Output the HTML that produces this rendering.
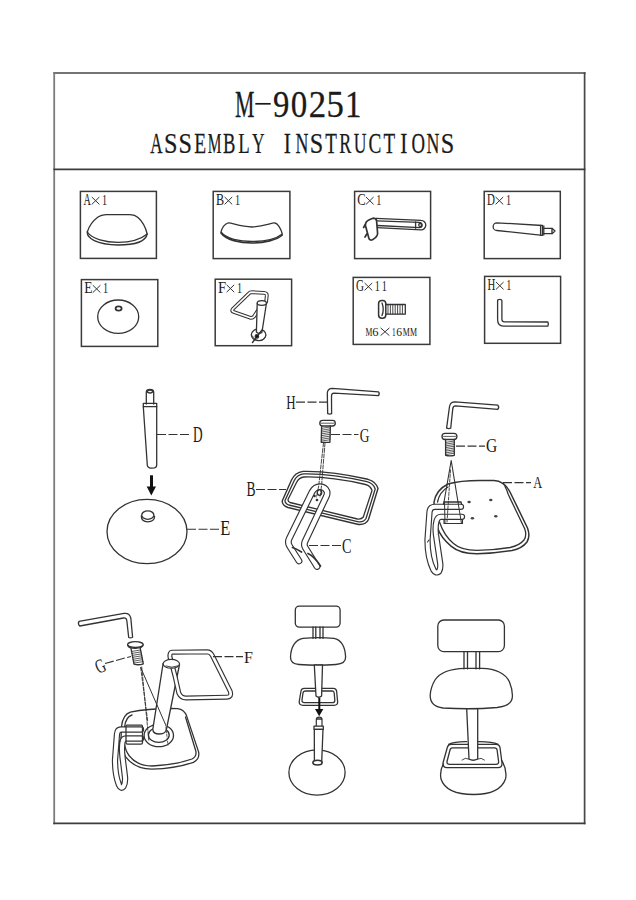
<!DOCTYPE html>
<html><head><meta charset="utf-8"><style>
html,body{margin:0;padding:0;background:#fff;width:636px;height:900px;overflow:hidden}
svg{display:block}
text{font-family:"Liberation Serif",serif}
</style></head><body>
<svg width="636" height="900" viewBox="0 0 636 900">
<g fill="none" stroke-linecap="square">
<path d="M54.2 73.1H584.6" stroke="#747474" stroke-width="2"/>
<path d="M54.2 73.1V823.3" stroke="#7c7c7c" stroke-width="1.8"/>
<path d="M584.6 73.1V823.3" stroke="#484848" stroke-width="1.7"/>
<path d="M54.2 823.3H584.6" stroke="#3c3c3c" stroke-width="1.8"/>
<path d="M54.2 169.4H584.6" stroke="#3c3c3c" stroke-width="1.6"/>
</g>
<g>
<text transform="translate(234.89 116.60) scale(0.582 1)" font-size="37.60" fill="#1a1a1a" stroke="#1a1a1a" stroke-width="0.3">M</text>
<text transform="translate(272.89 116.60) scale(0.872 1)" font-size="37.60" fill="#1a1a1a" stroke="#1a1a1a" stroke-width="0.3">9</text>
<text transform="translate(290.86 116.60) scale(0.878 1)" font-size="37.60" fill="#1a1a1a" stroke="#1a1a1a" stroke-width="0.3">0</text>
<text transform="translate(308.78 116.60) scale(0.926 1)" font-size="37.60" fill="#1a1a1a" stroke="#1a1a1a" stroke-width="0.3">2</text>
<text transform="translate(326.44 116.60) scale(0.924 1)" font-size="37.60" fill="#1a1a1a" stroke="#1a1a1a" stroke-width="0.3">5</text>
<text transform="translate(344.96 116.60) scale(0.874 1)" font-size="37.60" fill="#1a1a1a" stroke="#1a1a1a" stroke-width="0.3">1</text>
<path d="M255.3 103.8H270.7" stroke="#1a1a1a" stroke-width="1.7"/>
<text transform="translate(150.15 152.50) scale(0.567 1)" font-size="30.00" fill="#1a1a1a" stroke="#1a1a1a" stroke-width="0.25">A</text>
<text transform="translate(164.06 152.50) scale(0.808 1)" font-size="30.00" fill="#1a1a1a" stroke="#1a1a1a" stroke-width="0.25">S</text>
<text transform="translate(178.62 152.50) scale(0.808 1)" font-size="30.00" fill="#1a1a1a" stroke="#1a1a1a" stroke-width="0.25">S</text>
<text transform="translate(194.23 152.50) scale(0.649 1)" font-size="30.00" fill="#1a1a1a" stroke="#1a1a1a" stroke-width="0.25">E</text>
<text transform="translate(207.71 152.50) scale(0.513 1)" font-size="30.00" fill="#1a1a1a" stroke="#1a1a1a" stroke-width="0.25">M</text>
<text transform="translate(223.08 152.50) scale(0.620 1)" font-size="30.00" fill="#1a1a1a" stroke="#1a1a1a" stroke-width="0.25">B</text>
<text transform="translate(238.24 152.50) scale(0.625 1)" font-size="30.00" fill="#1a1a1a" stroke="#1a1a1a" stroke-width="0.25">L</text>
<text transform="translate(252.03 152.50) scale(0.583 1)" font-size="30.00" fill="#1a1a1a" stroke="#1a1a1a" stroke-width="0.25">Y</text>
<text transform="translate(283.77 152.50) scale(0.712 1)" font-size="30.00" fill="#1a1a1a" stroke="#1a1a1a" stroke-width="0.25">I</text>
<text transform="translate(295.40 152.50) scale(0.595 1)" font-size="30.00" fill="#1a1a1a" stroke="#1a1a1a" stroke-width="0.25">N</text>
<text transform="translate(309.66 152.50) scale(0.808 1)" font-size="30.00" fill="#1a1a1a" stroke="#1a1a1a" stroke-width="0.25">S</text>
<text transform="translate(325.18 152.50) scale(0.635 1)" font-size="30.00" fill="#1a1a1a" stroke="#1a1a1a" stroke-width="0.25">T</text>
<text transform="translate(339.33 152.50) scale(0.601 1)" font-size="30.00" fill="#1a1a1a" stroke="#1a1a1a" stroke-width="0.25">R</text>
<text transform="translate(353.77 152.50) scale(0.587 1)" font-size="30.00" fill="#1a1a1a" stroke="#1a1a1a" stroke-width="0.25">U</text>
<text transform="translate(368.41 152.50) scale(0.642 1)" font-size="30.00" fill="#1a1a1a" stroke="#1a1a1a" stroke-width="0.25">C</text>
<text transform="translate(383.42 152.50) scale(0.635 1)" font-size="30.00" fill="#1a1a1a" stroke="#1a1a1a" stroke-width="0.25">T</text>
<text transform="translate(400.25 152.50) scale(0.712 1)" font-size="30.00" fill="#1a1a1a" stroke="#1a1a1a" stroke-width="0.25">I</text>
<text transform="translate(411.61 152.50) scale(0.624 1)" font-size="30.00" fill="#1a1a1a" stroke="#1a1a1a" stroke-width="0.25">O</text>
<text transform="translate(426.44 152.50) scale(0.595 1)" font-size="30.00" fill="#1a1a1a" stroke="#1a1a1a" stroke-width="0.25">N</text>
<text transform="translate(440.70 152.50) scale(0.808 1)" font-size="30.00" fill="#1a1a1a" stroke="#1a1a1a" stroke-width="0.25">S</text>
</g>
<g fill="none" stroke="#3a3a3a" stroke-width="1.5">
<rect x="80.4" y="191.4" width="76" height="67"/>
<rect x="213.2" y="191.4" width="76.7" height="67.2"/>
<rect x="354.6" y="191.4" width="76" height="67.2"/>
<rect x="484.2" y="191.4" width="76.1" height="67.2"/>
<rect x="81.4" y="279.6" width="76.4" height="66.8"/>
<rect x="215.2" y="279.2" width="76.4" height="66.5"/>
<rect x="353.2" y="277.4" width="76.7" height="67.0"/>
<rect x="484.6" y="276.4" width="76" height="66.9"/>
</g>
<text transform="translate(83.51 205.20) scale(0.583 1)" font-size="17.50" fill="#1a1a1a">A</text>
<path d="M91.8 197.0L99.4 204.4M99.4 197.0L91.8 204.4" stroke="#333" stroke-width="1" fill="none"/>
<text transform="translate(102.11 204.90) scale(0.750 1)" font-size="13.60" fill="#1a1a1a">1</text>
<text transform="translate(216.06 205.20) scale(0.696 1)" font-size="17.50" fill="#1a1a1a">B</text>
<path d="M224.6 197.0L232.2 204.4M232.2 197.0L224.6 204.4" stroke="#333" stroke-width="1" fill="none"/>
<text transform="translate(234.91 204.90) scale(0.750 1)" font-size="13.60" fill="#1a1a1a">1</text>
<text transform="translate(357.28 205.20) scale(0.721 1)" font-size="17.50" fill="#1a1a1a">C</text>
<path d="M366.0 197.0L373.6 204.4M373.6 197.0L366.0 204.4" stroke="#333" stroke-width="1" fill="none"/>
<text transform="translate(376.31 204.90) scale(0.750 1)" font-size="13.60" fill="#1a1a1a">1</text>
<text transform="translate(487.09 205.20) scale(0.628 1)" font-size="17.50" fill="#1a1a1a">D</text>
<path d="M495.6 197.0L503.2 204.4M503.2 197.0L495.6 204.4" stroke="#333" stroke-width="1" fill="none"/>
<text transform="translate(505.91 204.90) scale(0.750 1)" font-size="13.60" fill="#1a1a1a">1</text>
<text transform="translate(84.22 293.40) scale(0.770 1)" font-size="17.50" fill="#1a1a1a">E</text>
<path d="M92.8 285.2L100.4 292.6M100.4 285.2L92.8 292.6" stroke="#333" stroke-width="1" fill="none"/>
<text transform="translate(103.11 293.10) scale(0.750 1)" font-size="13.60" fill="#1a1a1a">1</text>
<text transform="translate(217.99 293.00) scale(0.835 1)" font-size="17.50" fill="#1a1a1a">F</text>
<path d="M226.6 284.8L234.2 292.2M234.2 284.8L226.6 292.2" stroke="#333" stroke-width="1" fill="none"/>
<text transform="translate(236.91 292.70) scale(0.750 1)" font-size="13.60" fill="#1a1a1a">1</text>
<text transform="translate(355.95 291.20) scale(0.633 1)" font-size="17.50" fill="#1a1a1a">G</text>
<path d="M364.6 283.0L372.2 290.4M372.2 283.0L364.6 290.4" stroke="#333" stroke-width="1" fill="none"/>
<text transform="translate(374.81 291.00) scale(0.750 1)" font-size="13.60" fill="#1a1a1a">1</text>
<text transform="translate(381.71 291.00) scale(0.750 1)" font-size="13.60" fill="#1a1a1a">1</text>
<text transform="translate(487.50 290.20) scale(0.619 1)" font-size="17.50" fill="#1a1a1a">H</text>
<path d="M496.0 282.0L503.6 289.4M503.6 282.0L496.0 289.4" stroke="#333" stroke-width="1" fill="none"/>
<text transform="translate(506.31 289.90) scale(0.750 1)" font-size="13.60" fill="#1a1a1a">1</text>
<text transform="translate(365.58 335.80) scale(0.625 1)" font-size="12.30" fill="#1a1a1a">M</text>
<text transform="translate(372.37 335.80) scale(1.023 1)" font-size="12.30" fill="#1a1a1a">6</text>
<path d="M380.6 327.9L389.4 335.6M389.4 327.9L380.6 335.6" stroke="#333" stroke-width="1" fill="none"/>
<text transform="translate(392.06 335.80) scale(0.599 1)" font-size="12.30" fill="#1a1a1a">1</text>
<text transform="translate(396.31 335.80) scale(0.948 1)" font-size="12.30" fill="#1a1a1a">6</text>
<text transform="translate(402.68 335.80) scale(0.645 1)" font-size="12.30" fill="#1a1a1a">M</text>
<text transform="translate(409.88 335.80) scale(0.645 1)" font-size="12.30" fill="#1a1a1a">M</text>
<g fill="none" stroke="#333" stroke-width="1.3" stroke-linecap="round" stroke-linejoin="round">
<path d="M87.3 232C89 226 94 220 98 217Q101 214.8 106 214.6L130 214.6Q135 214.8 138 217.5C142 221 145.5 227 147.2 234C140 240 128 242.3 118 242.3C106 242.3 92 239 87.3 232Z"/>
<path d="M87.2 232C87 238 96 244.5 118 245C138 245 146 240 147.2 234"/>
<path d="M221 232C222 228 225 224 228 223C231 222.5 240 226.5 252 227C264 226.5 272 222.5 275 223C278 223.5 281 229 282.3 234C276 239 264 241.5 252 241.5C240 241.5 226 239 221 232Z"/>
<path d="M221 233C226 240 240 243 252 243C264 243 277 240 282.3 235" stroke-width="1.6"/>
<path d="M376 218.3L421 220.3A4.8 4.8 0 0 1 421 229.9L377 227.6" stroke-width="1.3"/>
<path d="M377 220.9L419.5 222.4A2.6 2.6 0 0 1 419.5 227.6L377 225.5"/>
<path d="M415.6 221.8V228.3"/><circle cx="420.2" cy="225" r="1.5"/>
<path d="M366 222.5Q367.5 220 373 218.2Q376.3 218.2 376.6 221L377.6 233.5Q377.5 236.8 372.5 239.8Q369.5 240.8 368.8 238L365.3 225Z" stroke-width="1.7" fill="#fff"/>
<path d="M365.3 224.5L363.6 227.5M366.8 234L365 237" stroke-width="1.7"/>
<path d="M497 222.8L542.5 225.5L542.5 235.3L497 230.5A3.85 3.85 0 0 1 497 222.8Z"/>
<path d="M540.6 225.5V235.2M543.8 226V235" stroke-width="1.3"/>
<path d="M543.8 228.3H552L555 231L552 233.7H543.8"/><path d="M552 228.5V233.5" stroke-width="1.4"/>
<ellipse cx="118.2" cy="316.7" rx="20.5" ry="16.7"/>
<ellipse cx="118.6" cy="308.5" rx="3.0" ry="2.1" stroke-width="1.8"/>
<ellipse cx="258.6" cy="334.8" rx="7.3" ry="5.8"/>
<path d="M252.5 336Q254 340.5 259 340.6Q264.5 340.4 265.8 336" stroke-width="0.9"/>
<path d="M266.1 302L266.8 295.5Q267 293 264 292.8L252 292.2Q250 292.2 249 293.3L232.8 309Q231.2 311.2 233.8 312L250.3 317.8Q252.5 318.3 254 316.5L259.5 308" stroke-width="3.8"/>
<path d="M266.1 302L266.8 295.5Q267 293 264 292.8L252 292.2Q250 292.2 249 293.3L232.8 309Q231.2 311.2 233.8 312L250.3 317.8Q252.5 318.3 254 316.5L259.5 308" stroke="#fff" stroke-width="1.7"/>
<path d="M257.2 303.5L256.4 332Q259 334.5 261.9 332.5L266.4 303.5Z" fill="#fff"/>
<ellipse cx="261.8" cy="303" rx="4.6" ry="2.3" fill="#fff"/>
<path d="M252.5 342.5L262 330" stroke-width="1.4"/><circle cx="256.9" cy="336.4" r="1.7" fill="#111"/>
<rect x="378.6" y="300.4" width="7.2" height="17.9" rx="3.2" stroke-width="1.5"/>
<path d="M382 303Q384.5 309.3 382 315.6"/>
<path d="M385.8 304.5H405.3V314.2H385.8"/>
<path d="M388 305V314M390.4 305V314M392.8 305V314M395.2 305V314M397.6 305V314M400 305V314M402.4 305V314" stroke-width="0.9"/>
<path d="M497.6 300.6Q497.6 299.3 499.8 299.3Q501.9 299.3 501.9 300.6V319.5Q502 321.8 504.5 321.8L547.8 322Q548.8 324.1 547.8 326.2L503.5 326.2Q497.6 326 497.6 319.5Z" stroke-width="1.3"/>
</g>
<g fill="none" stroke="#333" stroke-width="1.3" stroke-linecap="round" stroke-linejoin="round">
<path d="M146.3 404V392Q146.3 389.3 150 389.3Q153.7 389.3 153.7 392V404"/><ellipse cx="150" cy="391.6" rx="2.6" ry="1.4"/>
<path d="M143.3 403.3H156.7V406.7H143.3Z"/>
<path d="M143.3 406.7L147.3 465.3Q148 468.2 152 468.2Q156.7 468.2 156.7 465V406.7"/>
<ellipse cx="147" cy="531.5" rx="40" ry="32.2"/>
<ellipse cx="147.8" cy="515.1" rx="6.1" ry="4.2" stroke-width="1.3"/><path d="M141.3 516Q141.3 521.6 147.8 521.8Q154.4 521.6 154.6 516.5" stroke-width="1.3"/>
<path d="M327.7 413.7L327.3 393.5Q327.3 388.3 332.5 388.3L378.5 391.9Q380 393.6 378.5 395.6L334 393.2Q331.6 393.2 331.5 396L331.6 413.7Q329.6 414.4 327.7 413.7Z" stroke-width="1.3"/>
<rect x="319.8" y="420.4" width="15.5" height="5.6" rx="2.8" stroke-width="1.3" fill="#fff"/>
<path d="M321 423.2H334" stroke-width="0.8"/>
<path d="M321.6 426L321.2 442.3H329.9L330.4 426"/>
<path d="M321.4 428.4L330.2 427.0M321.4 430.3L330.2 428.8M321.4 432.1L330.2 430.6M321.4 433.9L330.2 432.4M321.4 435.7L330.2 434.2M321.4 437.5L330.2 436.1M321.4 439.3L330.2 437.9M321.4 441.1L330.2 439.7" stroke-width="0.8"/>
<path d="M446.6 428.2L449.5 406.5Q450.3 402 455 401.9L497.8 405.2Q499.6 407.3 497.8 409.3L455.5 405.9Q453.3 406 452.8 408.5L450.7 428.2Q448.6 429 446.6 428.2Z" stroke-width="1.3"/>
<rect x="442" y="433.3" width="14.9" height="6.2" rx="3" stroke-width="1.3" fill="#fff"/>
<path d="M443.5 436.4H455.5" stroke-width="0.8"/>
<path d="M445.6 439.5V455.3Q450 456.3 454.3 455.3V439.5"/>
<path d="M445.6 442.4L454.3 441.0M445.6 444.1L454.3 442.8M445.6 445.9L454.3 444.5M445.6 447.6L454.3 446.2M445.6 449.4L454.3 448.0M445.6 451.1L454.3 449.8M445.6 452.9L454.3 451.5M445.6 454.6L454.3 453.2" stroke-width="0.8"/>
<path d="M79 621.3L124 613.4Q129.5 612.6 130.8 618L132.6 637.2Q130.6 638.3 128.7 637.5L126.8 620.5Q126.3 617.6 123.5 618L79.8 626Q77.5 623.8 79 621.3Z" stroke-width="1.3"/>
<ellipse cx="135.4" cy="644.6" rx="7.8" ry="2.9" stroke-width="1.3" fill="#fff"/>
<path d="M127.8 645.5Q128.5 648.3 135.5 648.3Q142.5 648.2 143.1 645.2" stroke-width="1.2"/>
<path d="M131 648.3L134 664.2Q138.8 665.5 143.3 663.8L140.2 648"/>
<path d="M131.3 651.5L140.5 650.0M131.7 653.5L140.9 651.9M132.2 655.4L141.4 653.9M132.6 657.3L141.8 655.8M133.0 659.3L142.2 657.7M133.4 661.2L142.6 659.6M133.9 663.1L143.1 661.6" stroke-width="0.8"/>
</g>
<g fill="none" stroke="#333" stroke-width="1.3" stroke-linecap="round" stroke-linejoin="round">
<path d="M303 471.4C320 471 345 474 368 479.3Q376 481.5 378 488.5L368.5 519.5Q366 525 358.5 524.5L288 507.5Q282 505.5 282.2 501L291.5 480Q295 472.5 303 471.4Z" stroke-width="1.4"/>
<path d="M303.5 473.9C320 473.5 344.5 476.5 367 481.7Q373.5 483.5 375.2 489L366 518.5Q364 522.3 358.5 521.8L288.8 505Q284.8 503.5 285 500.5L294 481Q297 474.8 303.5 473.9Z"/>
<path d="M304 477C320 476.5 343.5 479.5 365.5 484.5Q370.8 486 372 490.5L363.3 517Q361.5 519.5 357.5 519L290 502.5Q287.8 501.5 288 499.5L296.5 482.5Q299 477.5 304 477Z"/>
<path d="M323.5 443L318.7 486M325 443L321.5 486" stroke-dasharray="4 1.5" stroke-width="0.9"/>
<path d="M299 561L289.5 546Q287.5 542.5 289 539L312 492Q315 486.7 320 486.7Q325.3 486.9 327 491.5Q327.5 493.5 326.5 496L305 541.5Q303.5 545 305.5 548L317 566.5" stroke-width="6.8" stroke-linecap="round"/>
<path d="M299 561L289.5 546Q287.5 542.5 289 539L312 492Q315 486.7 320 486.7Q325.3 486.9 327 491.5Q327.5 493.5 326.5 496L305 541.5Q303.5 545 305.5 548L317 566.5" stroke="#fff" stroke-width="4.5" stroke-linecap="round"/>
<path d="M292.5 547.5Q297 549 301.5 552M308 553.5Q314 556 320.5 566" stroke-width="1.7"/>
<ellipse cx="319.5" cy="492.5" rx="2.2" ry="2.8"/><circle cx="314.5" cy="496" r="0.7" fill="#222"/><circle cx="317" cy="500" r="0.7" fill="#222"/>
<path d="M318.7 486L316.5 497M321.5 486L320 497" stroke-dasharray="2.5 1.2" stroke-width="0.9"/>
<path d="M434 502Q436 490 448 484Q460 480.5 480 480.5L494 480.6Q504 481 510 492L527.5 528Q530.5 536 527 542Q522 548.5 512 550.5Q495 553.5 477 553.7Q460 553.8 451 546.1Q441 538 437.1 527.1Q434 514 434 502Z" stroke-width="1.5"/>
<path d="M505 486.5Q507 490 508.3 494.5L524.8 529Q527 535.5 524 540Q519.5 545.5 510 547.5Q494 550.3 477 550.3Q461 550.3 453.5 543.5Q444 535.5 439.5 522"/>
<path d="M437.5 502Q439.5 492 448 487"/>
<g fill="#444" stroke="none"><ellipse cx="469.1" cy="502" rx="1.7" ry="1.3"/><ellipse cx="490.8" cy="500" rx="1.7" ry="1.3"/><ellipse cx="472.4" cy="518.2" rx="1.7" ry="1.3"/><ellipse cx="495.8" cy="516.3" rx="1.7" ry="1.3"/></g>
<path d="M461 506.8H435Q430 506.8 429.5 512L427.5 540Q427.5 558 433.5 570Q436 574 439 571.5Q441 568 440 562L436 535Q435 527 436.5 521Q437.5 516.8 441 516.8H462" stroke-width="6.3" stroke-linecap="round" fill="#fff"/>
<path d="M461 506.8H435Q430 506.8 429.5 512L427.5 540Q427.5 558 433.5 570Q436 574 439 571.5Q441 568 440 562L436 535Q435 527 436.5 521Q437.5 516.8 441 516.8H462" stroke="#fff" stroke-width="4" stroke-linecap="round"/>
<path d="M429 540L427.5 542" stroke-width="1.1"/>
<path d="M444 502H461L461.5 504M444 502L443.5 504" stroke-width="1.3"/>
<path d="M444 519.5V523.5H462.5V519.5" stroke-width="1.1"/>
<path d="M458 502L461.5 523.5M444.5 502L445 523.5" stroke-width="1.0"/>
<path d="M451.2 460.5L444 502M451.2 460.5L458 502" stroke-width="1.1"/>
<path d="M450.5 470L447 522" stroke-dasharray="3 1.5" stroke-width="0.9"/>
<path d="M130.3 712.1Q150 708 177.8 708.6Q184 709.5 186.5 715.6L198.6 751.9Q200 759 193.4 762.3Q175 768.5 151.9 769.2Q135 769 125.9 757.1Q121 750 121 738L121.6 725.9Q123 714.5 130.3 712.1Z" stroke-width="1.3"/>
<path d="M185.5 717L195.8 751Q197 756.5 192 759Q175 765 152 766Q137 766 129 755.5Q125 750 124.2 742"/>
<path d="M124.5 727Q126 716.5 132 715"/>
<ellipse cx="158.8" cy="735.5" rx="14.7" ry="11.2" stroke-width="1.3"/><ellipse cx="158.8" cy="735" rx="10.4" ry="7.4"/>
<path d="M141 729.5H121Q117.5 729.5 117 734L115 760Q115 775 119 785Q121 789.5 123.5 786.5Q125.5 783 125 777L122.5 757Q121.5 748 122.5 742Q123 738.5 126 738.5H141" stroke-width="6.3" stroke-linecap="round"/>
<path d="M141 729.5H121Q117.5 729.5 117 734L115 760Q115 775 119 785Q121 789.5 123.5 786.5Q125.5 783 125 777L122.5 757Q121.5 748 122.5 742Q123 738.5 126 738.5H141" stroke="#fff" stroke-width="4" stroke-linecap="round"/>
<path d="M127 725.1H141.5Q142.5 725.1 142.5 726.5V742.5Q142.5 744.1 141 744.1H127.5Q126 744.1 126 742.5V726.5Q126 725.1 127 725.1Z"/>
<path d="M163.1 663.5L152.8 729.4Q153 734 159.5 734Q166 734 166.6 728.5L179.5 664.5Z" fill="#fff"/>
<path d="M172 652.2L207 651.8Q210.5 651.9 212.3 655.5L230.3 691.5Q232 697 227 697.2L186 698Q181 698 178.8 693L175 676L170 657Q169.5 652.4 172 652.2Z" stroke-width="5" />
<path d="M172 652.2L207 651.8Q210.5 651.9 212.3 655.5L230.3 691.5Q232 697 227 697.2L186 698Q181 698 178.8 693L175 676L170 657Q169.5 652.4 172 652.2Z" stroke="#fff" stroke-width="2.7" />
<ellipse cx="171.3" cy="663.8" rx="8.2" ry="4.4" fill="#fff" stroke-width="1.2"/>
<path d="M166 666Q172 668.5 177.5 666" stroke-width="0.9"/>
<path d="M140.7 667.6L165.2 723.8" stroke-width="1.0"/>
<path d="M140.7 667.6L147.8 721.8M141.7 667L148.8 740.2" stroke-dasharray="3.5 1.5" stroke-width="0.9"/>
<path d="M165.5 724L168 745" stroke-dasharray="2 1.5" stroke-width="0.8"/>
<rect x="295.3" y="606.1" width="44.8" height="21" rx="4"/>
<path d="M313 627V638.4M315.8 627V638.4M320 627V638.4M323 627V638.4"/>
<path d="M303 638.3C312 637.5 325 637.5 334 638.3C341.5 639.5 345.3 647.5 345.6 657C345.8 662 342 664 336 664.5C325 665.4 310 665.4 299 664.5C293 664 290.3 662 290.5 657C290.8 647.5 295 639.5 303 638.3Z"/>
<path d="M304.2 688.3H333.4Q336 688.4 336.6 691L337.6 701.5Q338 705.3 334 705.3H303Q299 705.3 299.2 701.5L301 691Q301.5 688.4 304.2 688.3Z"/>
<path d="M305.5 691H332.3Q334 691 334.2 693L334.8 700Q335 702.6 332.5 702.6H304.2Q301.8 702.6 302 700L303 693Q303.3 691 305.5 691Z"/>
<path d="M314.3 665L316 696Q318.8 698.5 321.6 696L322.5 665Z" fill="#fff"/>
<ellipse cx="317" cy="772.5" rx="28.1" ry="22.7"/>
<path d="M316.3 727V720Q316.3 717.2 319.2 717.2Q322 717.2 322 720V727Z" fill="#fff" stroke-width="1.2"/>
<path d="M316.5 719H321.8" stroke-width="1.3"/>
<path d="M314 726.2H323.3V729.3H314Z" fill="#fff"/>
<path d="M314.3 729.3L314.4 762.3Q318 764 321.7 762.3L323 729.3Z" fill="#fff"/>
<ellipse cx="317.5" cy="762.6" rx="4.6" ry="2.4" stroke-width="1.6" fill="#fff"/>
<rect x="437.8" y="620" width="66.6" height="31.6" rx="6"/>
<path d="M464 651.6V668.9M467.5 651.6V668.9M476 651.6V668.9M479.6 651.6V668.9"/>
<path d="M465 668.3L482 668.3C496 668.6 506 674 509.5 682C511.5 687 512.5 692 512.4 696C512.5 703 506 706.5 497 707.5C480 709 460 709 443 708C434 707 430 702 430.2 695C430.5 690 432 685 435 680C439.5 673 450 668.6 465 668.3Z"/>
<path d="M448.6 744.3Q455 741.5 466.7 741.7M477.7 741.7Q492 741.5 498.1 744.3"/>
<path d="M451 744.3H496Q499.5 744.3 500 747.5L502 763Q502.3 767.6 498 767.6H447Q442.7 767.6 443 763L447.3 747.5Q448 744.3 451 744.3Z" fill="#fff"/>
<path d="M452.5 747.8H494.5Q496.8 747.8 497.1 750L498.6 761.5Q498.8 764.3 496 764.3H449.5Q446.7 764.3 447 761.5L450 750Q450.4 747.8 452.5 747.8Z"/>
<path d="M443.3 764Q439.5 771 441 779Q446 794.5 473.7 794.5Q500 794.5 505.5 779Q507.5 770 501.5 760"/>
<path d="M466.7 708.9L469 759Q473 761.5 477.7 759L477.7 708.9Z" fill="#fff"/>
<path d="M462 760Q465 757 469 759M477.7 759Q481 757 484.5 760" stroke-width="0.9"/>
</g>
<text transform="translate(192.93 442.30) scale(0.598 1)" font-size="22.23" fill="#1a1a1a">D</text>
<text transform="translate(220.14 535.40) scale(0.786 1)" font-size="20.96" fill="#1a1a1a">E</text>
<text transform="translate(286.24 408.80) scale(0.673 1)" font-size="19.21" fill="#1a1a1a">H</text>
<text transform="translate(359.85 441.70) scale(0.753 1)" font-size="17.78" fill="#1a1a1a">G</text>
<text transform="translate(246.62 496.10) scale(0.677 1)" font-size="20.01" fill="#1a1a1a">B</text>
<text transform="translate(342.02 552.70) scale(0.709 1)" font-size="20.01" fill="#1a1a1a">C</text>
<text transform="translate(486.06 452.00) scale(0.858 1)" font-size="18.10" fill="#1a1a1a">G</text>
<text transform="translate(533.19 488.40) scale(0.776 1)" font-size="15.88" fill="#1a1a1a">A</text>
<g transform="rotate(-24 100.5 666)">
<text transform="translate(95.44 672.50) scale(0.688 1)" font-size="19.69" fill="#1a1a1a">G</text>
</g>
<text transform="translate(244.05 663.20) scale(0.917 1)" font-size="17.47" fill="#1a1a1a">F</text>
<g fill="none" stroke="#333" stroke-width="1.05" stroke-dasharray="9 2.5">
<path d="M157 434.4H191.5"/>
<path d="M187 529.3H219.5"/>
<path d="M296 402.1H327"/>
<path d="M331 434.5H358.5"/>
<path d="M256 489.5H286"/>
<path d="M309 545.5H341"/>
<path d="M456 446.1H485"/>
<path d="M503 482.6H531"/>
<path d="M105 663.5L131 656.4"/>
<path d="M213 656.6H243"/>
</g>
<g fill="#111" stroke="none">
<rect x="150" y="475.3" width="3" height="12"/><path d="M146.7 486.5H156L151.3 495.5Z"/>
<rect x="318.3" y="697.7" width="2" height="11.5"/><path d="M315 709H323.3L319.2 716.3Z"/>
</g>
</svg></body></html>
